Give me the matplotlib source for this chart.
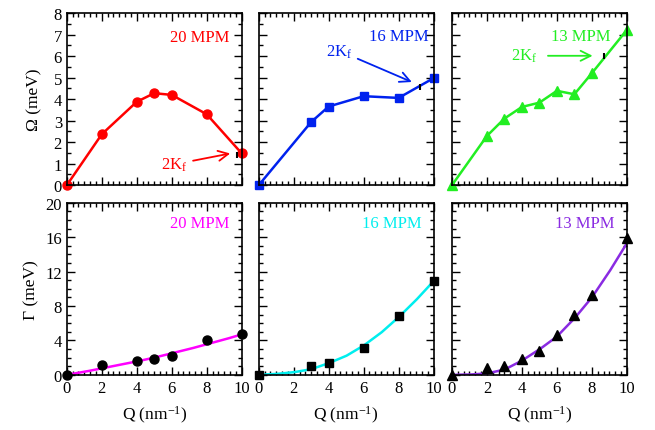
import numpy as np
import matplotlib.pyplot as plt
from matplotlib.ticker import MultipleLocator, AutoMinorLocator

plt.rcParams['font.family'] = ['Liberation Serif', 'DejaVu Serif']
plt.rcParams['mathtext.fontset'] = 'custom'
plt.rcParams['mathtext.rm'] = 'Liberation Serif'
plt.rcParams['mathtext.it'] = 'Liberation Serif'

# dispersion Omega(Q)
q20 = [0, 2, 4, 5, 6, 8, 10]
om20 = [0, 2.37, 3.88, 4.28, 4.2, 3.3, 1.48]
q16 = [0, 3, 4, 6, 8, 10]
om16 = [0, 2.94, 3.66, 4.14, 4.06, 4.98]
q13 = [0, 2, 3, 4, 5, 6, 7, 8, 10]
om13 = [0, 2.29, 3.1, 3.64, 3.84, 4.39, 4.23, 5.21, 7.22]

# damping Gamma(Q)
g20 = [0, 1.13, 1.6, 1.83, 2.2, 4.04, 4.7]
g16 = [0, 0.97, 1.36, 3.07, 6.87, 10.87]
g13 = [0, 0.74, 0.97, 1.83, 2.76, 4.66, 6.99, 9.28, 15.88]

# fitted curves
qfit = [0, 1, 2, 3, 4, 5, 6, 7, 8, 9, 10]
fit20 = [0, 0.35, 0.75, 1.15, 1.55, 2.0, 2.5, 3.0, 3.55, 4.1, 4.7]
fit16 = [0, 0.1, 0.3, 0.65, 1.35, 2.2, 3.4, 4.9, 6.7, 8.7, 10.9]
fit13 = [0, 0.03, 0.16, 0.6, 1.65, 2.95, 4.45, 6.55, 9.0, 12.0, 15.3]

# 2Kf positions
kf20 = (9.72, 1.42)
kf16 = (9.2, 4.55)
kf13 = (8.72, 6.0)

fig = plt.figure(figsize=(6.55, 4.31), dpi=100)
lefts = [0.102, 0.395, 0.690]
w, h = 0.267, 0.399
top = [fig.add_axes([l, 0.568, w, h]) for l in lefts]
bot = [fig.add_axes([l, 0.128, w, h]) for l in lefts]

def style(ax, ymax, ymaj, yminor_n):
    ax.set_xlim(0, 10)
    ax.set_ylim(0, ymax)
    ax.xaxis.set_major_locator(MultipleLocator(2))
    ax.xaxis.set_minor_locator(AutoMinorLocator(6))
    ax.yaxis.set_major_locator(MultipleLocator(ymaj))
    ax.yaxis.set_minor_locator(AutoMinorLocator(yminor_n))
    ax.tick_params(which='both', direction='in', top=True, right=True, labelsize=12)
    ax.tick_params(which='major', length=6, width=1)
    ax.tick_params(which='minor', length=3, width=1)
    for s in ax.spines.values():
        s.set_linewidth(1.2)

red, blue, green = '#ff0000', '#0022ee', '#22ee22'
mag, cyan, purp = '#ff00ff', '#00eeee', '#8a2be2'

top[0].plot(q20, om20, '-o', color=red, lw=1.8, ms=6.5, clip_on=False)
top[1].plot(q16, om16, '-s', color=blue, lw=1.8, ms=5.5, clip_on=False)
top[2].plot(q13, om13, '-^', color=green, lw=1.8, ms=6.5, clip_on=False)

for ax, kf in zip(top, [kf20, kf16, kf13]):
    ax.plot([kf[0]], [kf[1]], marker='|', color='k', ms=5, mew=1.5, clip_on=False)

top[0].text(7.6, 6.9, '20 MPM', color=red, fontsize=12, ha='center', va='center')
top[0].annotate('2K$_\\mathrm{f}$', xy=(9.5, 1.5), xytext=(5.4, 0.97), color=red, fontsize=12,
                va='center', arrowprops=dict(arrowstyle='->', color=red, lw=1.3, mutation_scale=18))
top[1].text(8.0, 6.95, '16 MPM', color=blue, fontsize=12, ha='center', va='center')
top[1].annotate('2K$_\\mathrm{f}$', xy=(8.9, 4.75), xytext=(3.85, 6.25), color=blue, fontsize=12,
                va='center', arrowprops=dict(arrowstyle='->', color=blue, lw=1.3, mutation_scale=18,
                                             shrinkA=2))
top[2].text(7.35, 6.95, '13 MPM', color=green, fontsize=12, ha='center', va='center')
top[2].annotate('2K$_\\mathrm{f}$', xy=(8.2, 6.02), xytext=(3.35, 6.02), color=green, fontsize=12,
                va='center', arrowprops=dict(arrowstyle='->', color=green, lw=1.3, mutation_scale=18,
                                             shrinkA=6))

for ax, g, q, m, ms, fit, col, lab in [(bot[0], g20, q20, 'o', 6.5, fit20, mag, '20 MPM'),
                                       (bot[1], g16, q16, 's', 5.5, fit16, cyan, '16 MPM'),
                                       (bot[2], g13, q13, '^', 6.5, fit13, purp, '13 MPM')]:
    qq = np.linspace(0, 10, 200)
    ax.plot(qq, np.interp(qq, qfit, fit), '-', color=col, lw=1.8, zorder=2)
    ax.plot(q, g, m, color='k', ms=ms, ls='none', clip_on=False, zorder=3)
    ax.text(7.6, 17.6, lab, color=col, fontsize=12, ha='center', va='center')
    ax.set_xlabel('Q (nm$^{\\mathregular{-1}}$)', fontsize=12.5, labelpad=6)

for ax in top:
    style(ax, 8, 1, 2)
    ax.set_xticklabels([])
for ax in bot:
    style(ax, 20, 4, 4)
for ax in top[1:] + bot[1:]:
    ax.set_yticklabels([])

top[0].set_ylabel('Ω (meV)', fontsize=12.5, labelpad=8)
bot[0].set_ylabel('Γ (meV)', fontsize=12.5, labelpad=4)

fig.savefig('out.png', dpi=100)
